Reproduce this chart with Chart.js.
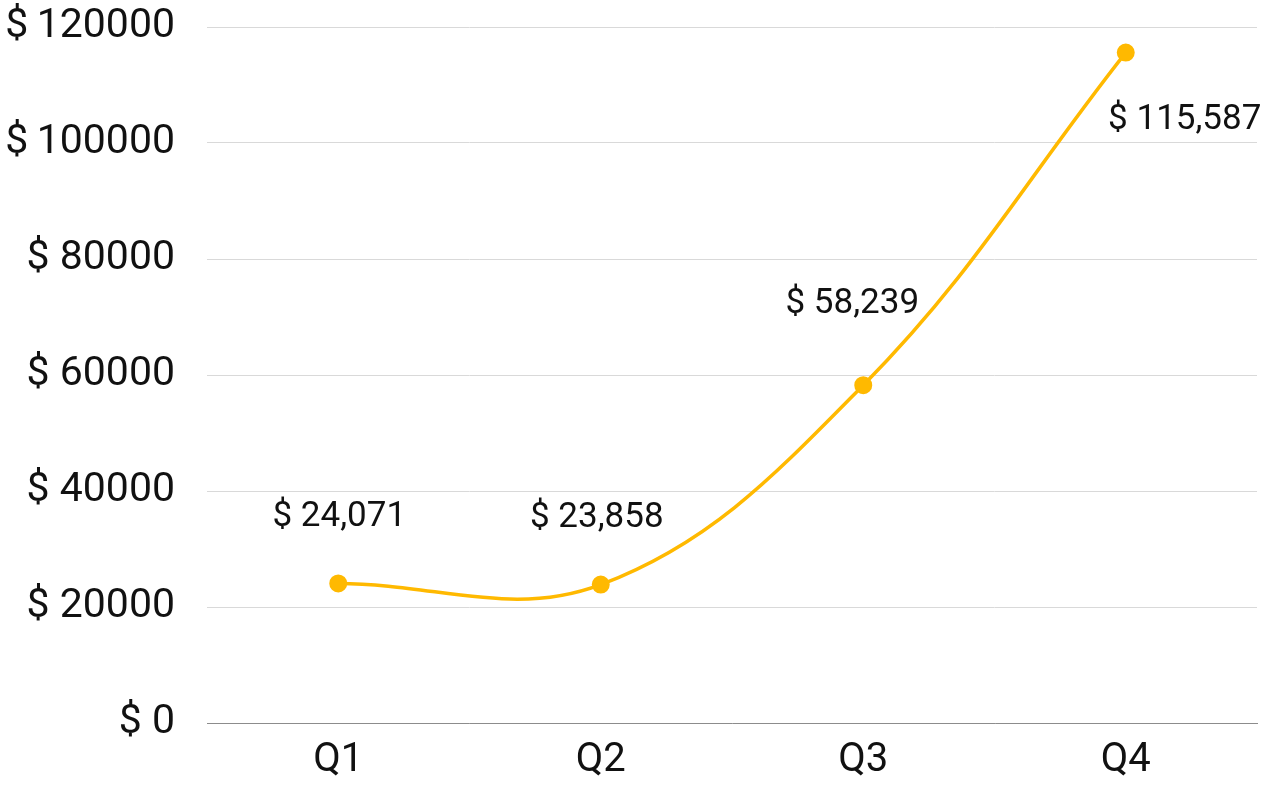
<!DOCTYPE html>
<html>
<head>
<meta charset="utf-8">
<script src="https://cdn.jsdelivr.net/npm/chart.js@4/dist/chart.umd.min.js"></script>
<style>
  html, body { margin: 0; padding: 0; background: #ffffff; }
  #wrap { width: 1283px; height: 788px; position: relative; }
</style>
</head>
<body>
<div id="wrap"><canvas id="c"></canvas></div>
<script>
const categories = ['Q1', 'Q2', 'Q3', 'Q4'];
const revenue = [24071, 23858, 58239, 115587];
const yTicks = [0, 20000, 40000, 60000, 80000, 100000, 120000];
const labelOffsets = [[1, -66], [-4, -66], [-11, -81], [59, 68]];

const FONT = 'Roboto, "Noto Sans", sans-serif';
const YELLOW = '#FFB900';

const dataLabels = {
  id: 'dataLabels',
  afterDatasetsDraw(chart) {
    const ctx = chart.ctx;
    const meta = chart.getDatasetMeta(0);
    ctx.save();
    ctx.font = '35px ' + FONT;
    ctx.fillStyle = '#111111';
    ctx.textAlign = 'center';
    ctx.textBaseline = 'middle';
    meta.data.forEach((pt, i) => {
      const v = chart.data.datasets[0].data[i];
      const txt = '$ ' + v.toLocaleString('en-US');
      const off = labelOffsets[i];
      ctx.fillText(txt, pt.x + off[0], pt.y + off[1]);
    });
    ctx.restore();
  }
};

new Chart(document.getElementById('c'), {
  type: 'line',
  data: {
    labels: categories,
    datasets: [{
      data: revenue,
      borderColor: YELLOW,
      backgroundColor: YELLOW,
      borderWidth: 3.5,
      tension: 0.38,
      pointRadius: 8,
      pointBorderWidth: 2,
      pointBackgroundColor: YELLOW,
      pointBorderColor: YELLOW,
      fill: false
    }]
  },
  options: {
    responsive: true,
    maintainAspectRatio: false,
    animation: false,
    layout: { padding: { top: 27, right: 26, left: 0, bottom: 0 } },
    plugins: { legend: { display: false }, tooltip: { enabled: false } },
    scales: {
      x: {
        offset: true,
        grid: { display: false, drawTicks: false },
        border: { display: true, color: '#8c8c8c', width: 1 },
        ticks: { color: '#111111', font: { family: FONT, size: 40 }, padding: 14 },
        afterFit(s) { s.height = 65; s.paddingLeft = 0; s.paddingRight = 0; }
      },
      y: {
        min: 0, max: 120000,
        afterBuildTicks(s) { s.ticks = yTicks.map(v => ({ value: v })); },
        grid: { color: '#d9d9d9', lineWidth: 1, drawTicks: false },
        border: { display: false },
        ticks: {
          color: '#111111',
          font: { family: FONT, size: 41 },
          padding: 32,
          callback: v => (v >= 100000 ? '$\u2009' : '$ ') + v
        },
        afterFit(s) { s.width = 207; s.paddingTop = 0; s.paddingBottom = 0; }
      }
    }
  },
  plugins: [dataLabels]
});
</script>
</body>
</html>
